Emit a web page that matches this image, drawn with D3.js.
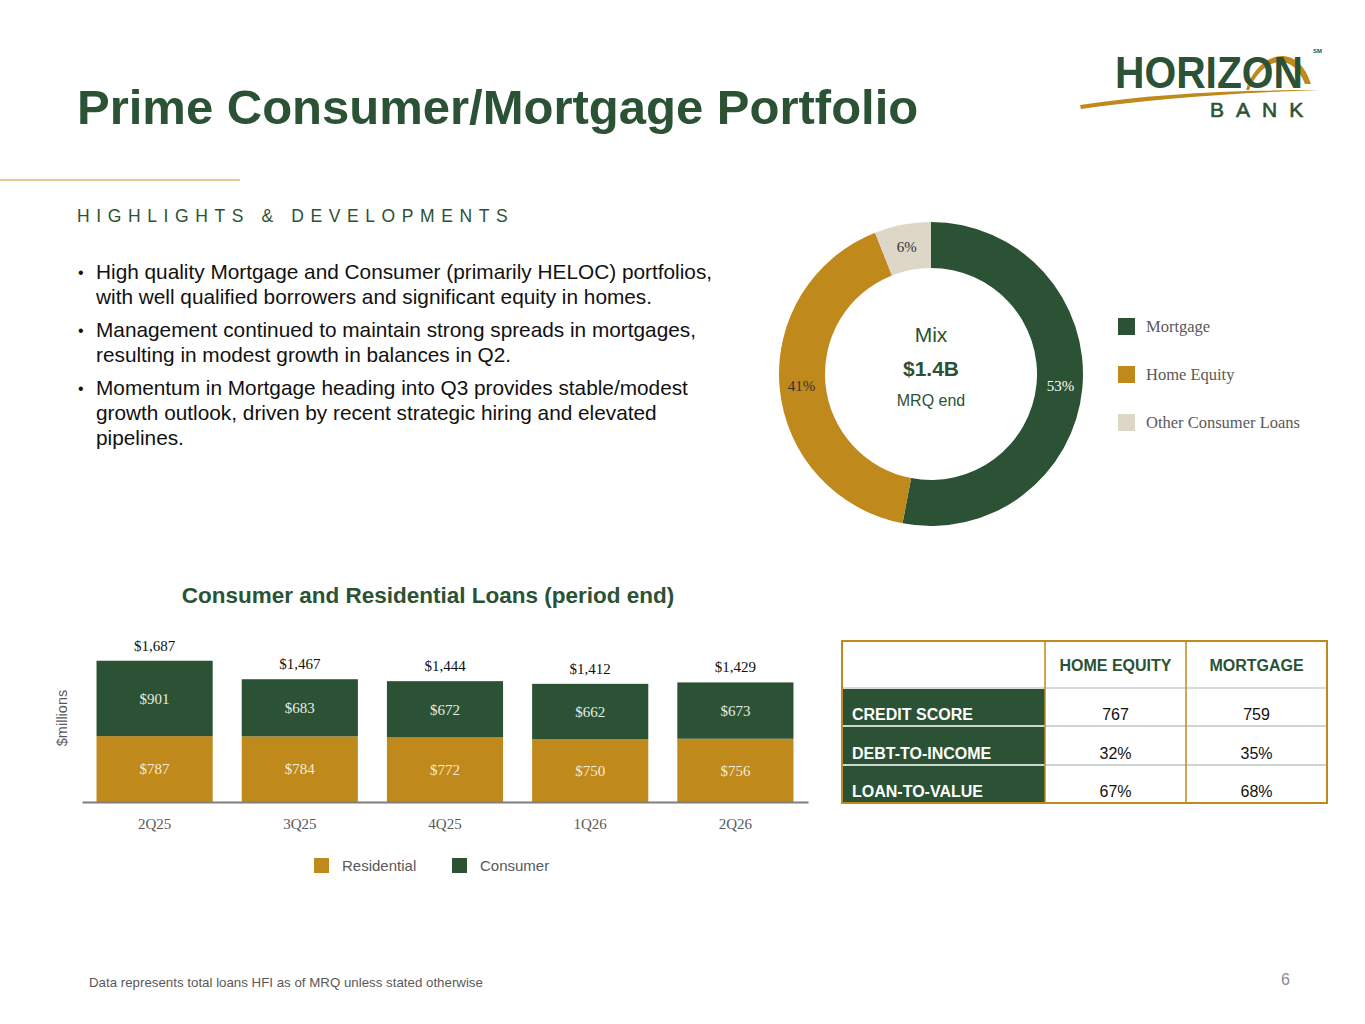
<!DOCTYPE html>
<html>
<head>
<meta charset="utf-8">
<script src="https://cdn.jsdelivr.net/npm/d3@7"></script>
<style>
  body { margin: 0; background: #fff; }
  svg { display: block; }
  .sans { font-family: "Liberation Sans", Arial, sans-serif; }
  .serif { font-family: "Liberation Serif", "Times New Roman", serif; }
</style>
</head>
<body>
<svg id="slide" width="1365" height="1024"></svg>
<script>
// ---- data ----
var quarters = ['2Q25', '3Q25', '4Q25', '1Q26', '2Q26'];
var residential = [787, 784, 772, 750, 756];
var consumer = [901, 683, 672, 662, 673];
var totals = [1687, 1467, 1444, 1412, 1429];

var mixNames = ['Mortgage', 'Home Equity', 'Other Consumer Loans'];
var mixShares = [53, 41, 6];

var tableCols = ['HOME EQUITY', 'MORTGAGE'];
var tableRows = ['CREDIT SCORE', 'DEBT-TO-INCOME', 'LOAN-TO-VALUE'];
var homeEquityVals = ['767', '32%', '67%'];
var mortgageVals = ['759', '35%', '68%'];

var bullets = [
  ['High quality Mortgage and Consumer (primarily HELOC) portfolios,', 'with well qualified borrowers and significant equity in homes.'],
  ['Management continued to maintain strong spreads in mortgages,', 'resulting in modest growth in balances in Q2.'],
  ['Momentum in Mortgage heading into Q3 provides stable/modest', 'growth outlook, driven by recent strategic hiring and elevated', 'pipelines.']
];

var green = '#2b5234';
var gold = '#c0891b';
var beige = '#ddd7c7';
var grey = '#595959';

var svg = d3.select('#slide');

/* Header */
svg.append('text')
  .attr('class', 'sans')
  .attr('x', 77).attr('y', 124)
  .attr('font-size', 49).attr('font-weight', 'bold')
  .attr('fill', green)
  .text('Prime Consumer/Mortgage Portfolio');

svg.append('line')
  .attr('x1', 0).attr('x2', 240).attr('y1', 180).attr('y2', 180)
  .attr('stroke', '#d8bf6a').attr('stroke-width', 1.5);

// logo
var logo = svg.append('g');
logo.append('path')
  .attr('d', 'M1080,105 C1150,94 1230,90 1320,90 C1230,93 1150,99 1081,109 Z')
  .attr('fill', gold);
logo.append('path')
  .attr('d', 'M1246,90 C1256,55 1296,38 1311,84 L1305,84 C1292,50 1262,58 1249,90 Z')
  .attr('fill', gold);
logo.append('text')
  .attr('class', 'sans')
  .attr('x', 1115).attr('y', 88)
  .attr('font-size', 45).attr('font-weight', 'bold')
  .attr('textLength', 188).attr('lengthAdjust', 'spacingAndGlyphs')
  .attr('fill', green)
  .text('HORIZON');
logo.append('text')
  .attr('class', 'sans')
  .attr('x', 1313).attr('y', 53)
  .attr('font-size', 6).attr('font-weight', 'bold')
  .attr('fill', green)
  .text('SM');
logo.append('text')
  .attr('class', 'sans')
  .attr('x', 1210).attr('y', 117)
  .attr('font-size', 21)
  .attr('letter-spacing', 12)
  .attr('stroke', green).attr('stroke-width', 0.6)
  .attr('fill', green)
  .text('BANK');

/* Highlights */
svg.append('text')
  .attr('class', 'sans')
  .attr('x', 77).attr('y', 222)
  .attr('font-size', 17.5)
  .attr('letter-spacing', 6.6)
  .attr('fill', green)
  .text('HIGHLIGHTS & DEVELOPMENTS');

var lineY = 279;
bullets.forEach(function(lines, i) {
  svg.append('text')
    .attr('class', 'sans')
    .attr('x', 78).attr('y', lineY - 1)
    .attr('font-size', 16).attr('fill', '#111')
    .text('•');
  lines.forEach(function(t) {
    svg.append('text')
      .attr('class', 'sans')
      .attr('x', 96).attr('y', lineY)
      .attr('font-size', 20.8).attr('fill', '#111')
      .text(t);
    lineY += 25;
  });
  lineY += 8;
});

/* Donut */
var cx = 931, cy = 374;
var pie = d3.pie().sort(null).value(d => d.value);
var arc = d3.arc().innerRadius(106).outerRadius(152);
var labelArc = d3.arc().innerRadius(130).outerRadius(130);
var mixData = mixNames.map((n, i) => ({ name: n, value: mixShares[i] }));
var mixColor = d3.scaleOrdinal().domain(mixNames).range([green, gold, beige]);

var donut = svg.append('g').attr('transform', `translate(${cx},${cy})`);
var arcs = pie(mixData);
donut.selectAll('path')
  .data(arcs)
  .enter()
  .append('path')
  .attr('d', arc)
  .attr('fill', d => mixColor(d.data.name));

donut.selectAll('.pct')
  .data(arcs)
  .enter()
  .append('text')
  .attr('class', 'serif')
  .attr('transform', d => `translate(${labelArc.centroid(d)})`)
  .attr('text-anchor', 'middle')
  .attr('dy', '0.35em')
  .attr('font-size', 15)
  .attr('fill', (d, i) => i === 0 ? '#fff' : '#333')
  .text(d => d.data.value + '%');

donut.append('text').attr('class', 'sans')
  .attr('y', -32).attr('text-anchor', 'middle')
  .attr('font-size', 21).attr('fill', green).text('Mix');
donut.append('text').attr('class', 'sans')
  .attr('y', 2).attr('text-anchor', 'middle')
  .attr('font-size', 21).attr('font-weight', 'bold').attr('fill', green).text('$1.4B');
donut.append('text').attr('class', 'sans')
  .attr('y', 32).attr('text-anchor', 'middle')
  .attr('font-size', 16).attr('fill', green).text('MRQ end');

var mixLegend = svg.append('g')
  .selectAll('g')
  .data(mixNames)
  .enter()
  .append('g')
  .attr('transform', (d, i) => `translate(1118, ${318 + i * 48})`);
mixLegend.append('rect')
  .attr('width', 17).attr('height', 17)
  .attr('fill', d => mixColor(d));
mixLegend.append('text')
  .attr('class', 'serif')
  .attr('x', 28).attr('y', 14)
  .attr('font-size', 16.5).attr('fill', grey)
  .text(d => d);

/* Stacked bars */
svg.append('text')
  .attr('class', 'sans')
  .attr('x', 428).attr('y', 603)
  .attr('text-anchor', 'middle')
  .attr('font-size', 22.5).attr('font-weight', 'bold')
  .attr('fill', green)
  .text('Consumer and Residential Loans (period end)');

var x = d3.scaleBand()
  .domain(quarters)
  .range([82, 808])
  .paddingInner(0.2)
  .paddingOuter(0.1);
var y = d3.scaleLinear()
  .domain([0, 1900])
  .range([802, 643]);

var barData = quarters.map((q, i) => ({ q: q, res: residential[i], con: consumer[i], total: totals[i] }));
var bars = svg.append('g');

var groups = bars.selectAll('.bar')
  .data(barData)
  .enter()
  .append('g')
  .attr('class', 'bar');

groups.append('rect')
  .attr('x', d => x(d.q))
  .attr('width', x.bandwidth())
  .attr('y', d => y(d.res))
  .attr('height', d => y(0) - y(d.res))
  .attr('fill', gold);
groups.append('rect')
  .attr('x', d => x(d.q))
  .attr('width', x.bandwidth())
  .attr('y', d => y(d.res + d.con))
  .attr('height', d => y(d.res) - y(d.res + d.con))
  .attr('fill', green);

groups.append('text')
  .attr('class', 'serif')
  .attr('x', d => x(d.q) + x.bandwidth() / 2)
  .attr('y', d => (y(0) + y(d.res)) / 2)
  .attr('dy', '0.35em')
  .attr('text-anchor', 'middle')
  .attr('font-size', 15).attr('fill', '#f3ecd8')
  .text(d => '$' + d.res);
groups.append('text')
  .attr('class', 'serif')
  .attr('x', d => x(d.q) + x.bandwidth() / 2)
  .attr('y', d => (y(d.res) + y(d.res + d.con)) / 2)
  .attr('dy', '0.35em')
  .attr('text-anchor', 'middle')
  .attr('font-size', 15).attr('fill', '#e6ece6')
  .text(d => '$' + d.con);
groups.append('text')
  .attr('class', 'serif')
  .attr('x', d => x(d.q) + x.bandwidth() / 2)
  .attr('y', d => y(d.res + d.con) - 10)
  .attr('text-anchor', 'middle')
  .attr('font-size', 15).attr('fill', '#111')
  .text(d => '$' + d3.format(',')(d.total));

var xAxis = d3.axisBottom(x).tickSize(0).tickPadding(16);
var gx = svg.append('g')
  .attr('transform', `translate(0, ${y(0)})`)
  .call(xAxis);
gx.select('.domain').attr('stroke', '#7f7f7f').attr('stroke-width', 2);
gx.selectAll('text')
  .attr('font-family', '"Liberation Serif", serif')
  .attr('font-size', 15).attr('fill', grey);

svg.append('text')
  .attr('class', 'sans')
  .attr('transform', 'translate(67, 718) rotate(-90)')
  .attr('text-anchor', 'middle')
  .attr('font-size', 14.5).attr('fill', grey)
  .text('$millions');

var barKeys = ['Residential', 'Consumer'];
var barColor = d3.scaleOrdinal().domain(barKeys).range([gold, green]);
var barLegend = svg.append('g')
  .selectAll('g')
  .data(barKeys)
  .enter()
  .append('g')
  .attr('transform', (d, i) => `translate(${314 + i * 138}, 858)`);
barLegend.append('rect')
  .attr('width', 15).attr('height', 15)
  .attr('fill', d => barColor(d));
barLegend.append('text')
  .attr('class', 'sans')
  .attr('x', 28).attr('y', 13)
  .attr('font-size', 15).attr('fill', grey)
  .text(d => d);

/* Table */
var colX = [842, 1045, 1186, 1327];
var rowY = [641, 688, 726, 765, 803];
var table = svg.append('g');

tableRows.forEach(function(r, i) {
  table.append('rect')
    .attr('x', colX[0]).attr('y', rowY[i + 1])
    .attr('width', colX[1] - colX[0]).attr('height', rowY[i + 2] - rowY[i + 1])
    .attr('fill', green);
});
// row separators
[rowY[1], rowY[2], rowY[3]].forEach(function(yy, i) {
  table.append('line')
    .attr('x1', colX[0]).attr('x2', colX[3])
    .attr('y1', yy).attr('y2', yy)
    .attr('stroke', i === 0 ? '#d9d9d9' : '#cfd6cf').attr('stroke-width', 2);
});
// column separators & border
[colX[1], colX[2]].forEach(function(xx) {
  table.append('line')
    .attr('x1', xx).attr('x2', xx)
    .attr('y1', rowY[0]).attr('y2', rowY[4])
    .attr('stroke', gold).attr('stroke-width', 1.5);
});
table.append('rect')
  .attr('x', colX[0]).attr('y', rowY[0])
  .attr('width', colX[3] - colX[0]).attr('height', rowY[4] - rowY[0])
  .attr('fill', 'none')
  .attr('stroke', gold).attr('stroke-width', 2);

tableCols.forEach(function(c, j) {
  table.append('text')
    .attr('class', 'sans')
    .attr('x', (colX[j + 1] + colX[j + 2]) / 2).attr('y', 671)
    .attr('text-anchor', 'middle')
    .attr('font-size', 16).attr('font-weight', 'bold')
    .attr('fill', green)
    .text(c);
});
tableRows.forEach(function(r, i) {
  var ty = rowY[i + 2] - 6;
  table.append('text')
    .attr('class', 'sans')
    .attr('x', 852).attr('y', ty)
    .attr('font-size', 16).attr('font-weight', 'bold')
    .attr('fill', '#fff')
    .text(r);
  [homeEquityVals[i], mortgageVals[i]].forEach(function(v, j) {
    table.append('text')
      .attr('class', 'sans')
      .attr('x', (colX[j + 1] + colX[j + 2]) / 2).attr('y', ty)
      .attr('text-anchor', 'middle')
      .attr('font-size', 16).attr('fill', '#111')
      .text(v);
  });
});

/* Footer */
svg.append('text')
  .attr('class', 'sans')
  .attr('x', 89).attr('y', 987)
  .attr('font-size', 13.3).attr('fill', grey)
  .text('Data represents total loans HFI as of MRQ unless stated otherwise');
svg.append('text')
  .attr('class', 'sans')
  .attr('x', 1290).attr('y', 985)
  .attr('text-anchor', 'end')
  .attr('font-size', 16).attr('fill', '#8c8c8c')
  .text('6');
</script>
</body>
</html>
